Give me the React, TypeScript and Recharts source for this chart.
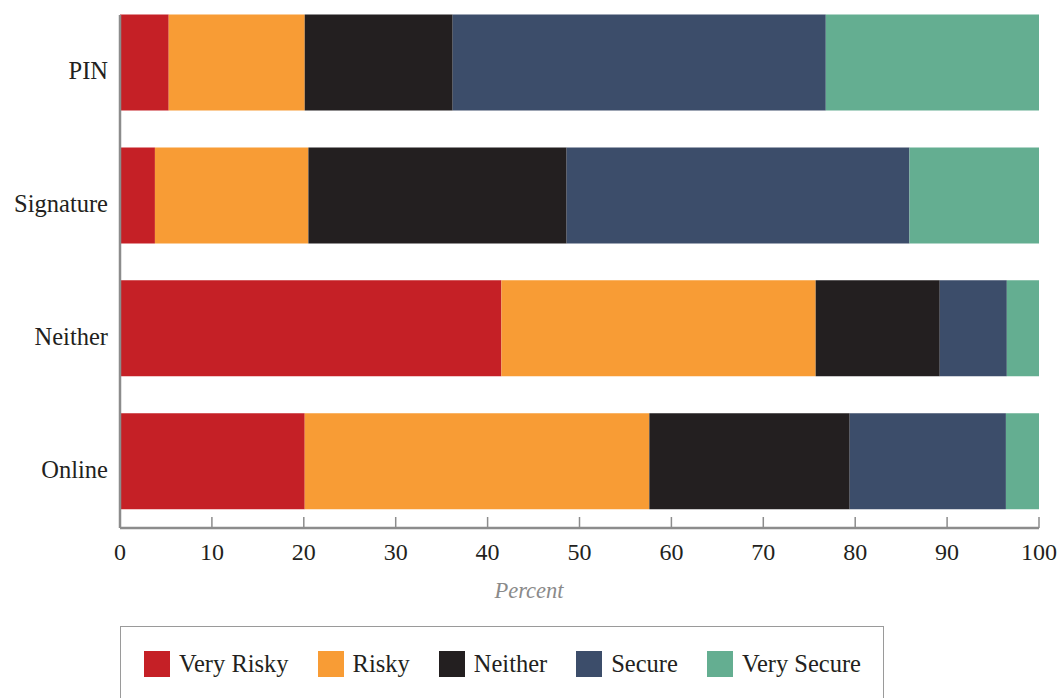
import React from 'react';
import { BarChart, Bar, XAxis, YAxis } from 'recharts';

const categories = ['PIN', 'Signature', 'Neither', 'Online'];
const veryRisky = [5.3, 3.8, 41.5, 20.1];
const risky = [14.8, 16.7, 34.2, 37.5];
const neither = [16.1, 28.1, 13.5, 21.8];
const secure = [40.6, 37.3, 7.3, 17.0];
const verySecure = [23.2, 14.1, 3.5, 3.6];
const xTicks = [0, 10, 20, 30, 40, 50, 60, 70, 80, 90, 100];

const series = [
  { key: 'veryRisky', name: 'Very Risky', color: '#c52026', values: veryRisky },
  { key: 'risky', name: 'Risky', color: '#f89c35', values: risky },
  { key: 'neither', name: 'Neither', color: '#231f20', values: neither },
  { key: 'secure', name: 'Secure', color: '#3c4d6a', values: secure },
  { key: 'verySecure', name: 'Very Secure', color: '#64ae91', values: verySecure },
];

const data = categories.map((name, i) => {
  const row: any = { name };
  series.forEach((s) => {
    row[s.key] = s.values[i];
  });
  return row;
});

const FONT = "'Liberation Serif', 'Times New Roman', serif";
const TEXT = '#231f20';
const AXIS = '#8c8c8c';

const XTick = ({ x, y, payload }: any) => (
  <g>
    <line x1={x} x2={x} y1={y - 11} y2={y} stroke={AXIS} strokeWidth={1.5} />
    <text x={x} y={y + 32} textAnchor="middle" fill={TEXT} fontFamily={FONT} fontSize={24}>
      {payload.value}
    </text>
  </g>
);

const YTick = ({ x, y, payload }: any) => (
  <text x={x - 12} y={y + 16.5} textAnchor="end" fill={TEXT} fontFamily={FONT} fontSize={24.5}>
    {payload.value}
  </text>
);

// axis title sits centred on the page, not on the plot
const PercentLabel = () => (
  <text x={529} y={598} textAnchor="middle" fill="#8a8a8a" fontFamily={FONT} fontStyle="italic" fontSize={22.5}>
    Percent
  </text>
);

export default function App() {
  return (
    <div style={{ position: 'absolute', left: 0, top: 0, width: 1060, height: 698, background: '#fff', overflow: 'hidden' }}>
      <BarChart
        width={1060}
        height={698}
        data={data}
        layout="vertical"
        margin={{ top: 15, right: 21, bottom: 110, left: 0 }}
      >
        <XAxis
          type="number"
          domain={[0, 100]}
          ticks={xTicks}
          interval={0}
          height={60}
          tickLine={false}
          tickSize={0}
          tickMargin={0}
          axisLine={{ stroke: AXIS, strokeWidth: 2.5 }}
          tick={<XTick />}
          label={{ content: <PercentLabel /> }}
        />
        <YAxis
          type="category"
          dataKey="name"
          width={120}
          padding={{ top: -18.5, bottom: 0 }}
          tickLine={false}
          tickSize={0}
          tickMargin={0}
          axisLine={{ stroke: AXIS, strokeWidth: 2.5 }}
          tick={<YTick />}
        />
        {series.map((s) => (
          <Bar
            key={s.key}
            dataKey={s.key}
            name={s.name}
            stackId="a"
            fill={s.color}
            barSize={96}
            isAnimationActive={false}
          />
        ))}
      </BarChart>
      <div
        style={{
          position: 'absolute',
          left: 120,
          top: 626,
          width: 764,
          height: 110,
          boxSizing: 'border-box',
          border: '1.5px solid #9a9a9a',
          display: 'flex',
          flexWrap: 'nowrap',
          alignItems: 'flex-start',
          paddingLeft: 23,
          paddingTop: 24,
          fontFamily: FONT,
          fontSize: 24.5,
          color: TEXT,
          whiteSpace: 'nowrap',
        }}
      >
        {series.map((s) => (
          <div key={s.key} style={{ display: 'flex', alignItems: 'center', flexShrink: 0, marginRight: 29, height: 26 }}>
            <span style={{ display: 'inline-block', flexShrink: 0, width: 26, height: 26, background: s.color, marginRight: 9 }} />
            <span style={{ lineHeight: '26px' }}>{s.name}</span>
          </div>
        ))}
      </div>
    </div>
  );
}
